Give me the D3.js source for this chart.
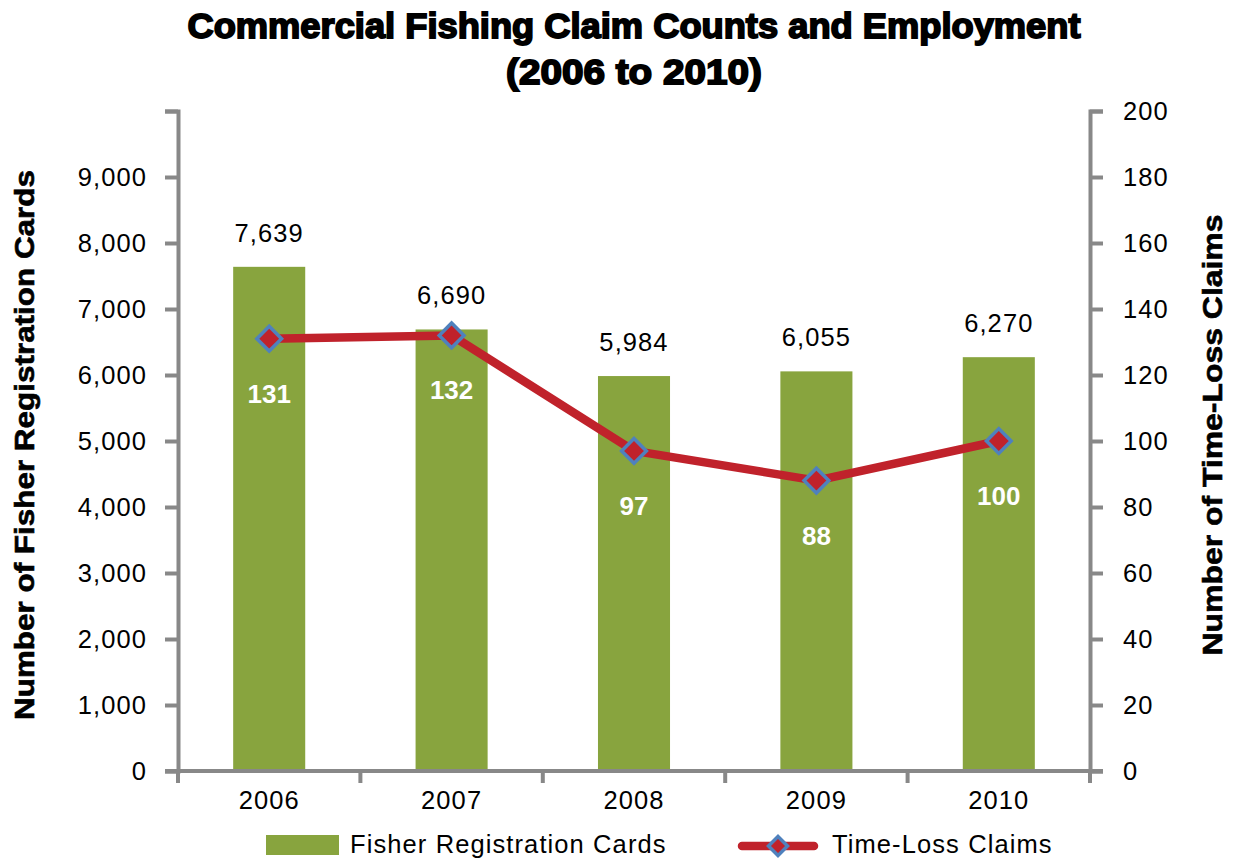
<!DOCTYPE html>
<meta charset="utf-8">
<script src="https://d3js.org/d3.v7.min.js"></script>
<style>
  body { margin: 0; background: #fff; }
  text { font-family: "Liberation Sans", Arial, sans-serif; }
</style>
<div id="chart"></div>
<script>
// data
var years = ["2006", "2007", "2008", "2009", "2010"];
var cards = [7639, 6690, 5984, 6055, 6270];
var claims = [131, 132, 97, 88, 100];
var leftTicks = [0, 1000, 2000, 3000, 4000, 5000, 6000, 7000, 8000, 9000, 10000];
var rightTicks = [0, 20, 40, 60, 80, 100, 120, 140, 160, 180, 200];

var W = 1236, H = 858;
var plot = { left: 178, right: 1090, top: 111, bottom: 771 };
var axisGrey = "#888888", barGreen = "#88A43E", lineRed = "#C0222B", markBlue = "#4F81BD";
var fontSz = 25.5, spacing = 1.1;

var svg = d3.select("#chart").append("svg")
    .attr("width", W).attr("height", H);

var x = d3.scaleBand().domain(years).range([plot.left, plot.right]).padding(0);
var yL = d3.scaleLinear().domain([0, 10000]).range([plot.bottom, plot.top]);
var yR = d3.scaleLinear().domain([0, 200]).range([plot.bottom, plot.top]);
var barW = x.bandwidth() * 0.395;

// title
svg.append("text").attr("x", 634).attr("y", 38).attr("text-anchor", "middle")
    .attr("font-size", 35).attr("font-weight", "bold")
    .attr("stroke", "#000").attr("stroke-width", 1.8)
    .attr("textLength", 893).attr("lengthAdjust", "spacingAndGlyphs")
    .text("Commercial Fishing Claim Counts and Employment");
svg.append("text").attr("x", 634).attr("y", 84).attr("text-anchor", "middle")
    .attr("font-size", 35).attr("font-weight", "bold")
    .attr("stroke", "#000").attr("stroke-width", 1.8)
    .attr("textLength", 256).attr("lengthAdjust", "spacingAndGlyphs")
    .text("(2006 to 2010)");

// bars
svg.selectAll("rect.bar").data(years).enter().append("rect")
    .attr("class", "bar")
    .attr("x", function (d) { return x(d) + x.bandwidth() / 2 - barW / 2; })
    .attr("y", function (d, i) { return yL(cards[i]); })
    .attr("width", barW)
    .attr("height", function (d, i) { return plot.bottom - yL(cards[i]); })
    .attr("fill", barGreen);

// bar value labels
svg.selectAll("text.cardlab").data(years).enter().append("text")
    .attr("class", "cardlab")
    .attr("x", function (d) { return x(d) + x.bandwidth() / 2; })
    .attr("y", function (d, i) { return yL(cards[i]) - 25; })
    .attr("text-anchor", "middle").attr("font-size", fontSz).attr("letter-spacing", spacing)
    .text(function (d, i) { return d3.format(",")(cards[i]); });

// axes
var left = svg.append("g").attr("transform", "translate(" + plot.left + ",0)")
    .call(d3.axisLeft(yL).tickValues(leftTicks).tickSizeOuter(0).tickSize(13).tickPadding(8)
        .tickFormat(function (d) { return d === 10000 ? "" : d3.format(",")(d); }));
var right = svg.append("g").attr("transform", "translate(" + plot.right + ",0)")
    .call(d3.axisRight(yR).tickValues(rightTicks).tickSizeOuter(0).tickSize(13).tickPadding(20));

[left, right].forEach(function (g) {
  g.select(".domain").attr("stroke", axisGrey).attr("stroke-width", 4);
  g.selectAll(".tick line").attr("stroke", axisGrey).attr("stroke-width", 4);
  g.selectAll(".tick text").attr("font-size", fontSz).attr("letter-spacing", spacing)
      .attr("fill", "#000").attr("font-family", "Liberation Sans, Arial, sans-serif");
});
left.selectAll(".tick text").attr("dx", -10);

var bottom = svg.append("g").attr("transform", "translate(0," + plot.bottom + ")")
    .call(d3.axisBottom(x).tickSize(0).tickPadding(20));
bottom.select(".domain").remove();
bottom.selectAll(".tick text").attr("font-size", fontSz).attr("letter-spacing", spacing)
    .attr("fill", "#000").attr("font-family", "Liberation Sans, Arial, sans-serif");
svg.append("line").attr("x1", plot.left - 13).attr("x2", plot.right + 13)
    .attr("y1", plot.bottom).attr("y2", plot.bottom)
    .attr("stroke", axisGrey).attr("stroke-width", 4);
var bounds = years.map(function (d) { return x(d); }).concat([plot.right]);
svg.selectAll("line.xtick").data(bounds).enter().append("line")
    .attr("class", "xtick")
    .attr("x1", function (d) { return d; }).attr("x2", function (d) { return d; })
    .attr("y1", plot.bottom).attr("y2", plot.bottom + 12)
    .attr("stroke", axisGrey).attr("stroke-width", 4);

// axis titles
svg.append("text").attr("transform", "translate(34,445) rotate(-90)")
    .attr("text-anchor", "middle").attr("font-size", 27).attr("font-weight", "bold")
    .attr("stroke", "#000").attr("stroke-width", 0.6)
    .attr("textLength", 550).attr("lengthAdjust", "spacingAndGlyphs")
    .text("Number of Fisher Registration Cards");
svg.append("text").attr("transform", "translate(1222,435) rotate(-90)")
    .attr("text-anchor", "middle").attr("font-size", 27).attr("font-weight", "bold")
    .attr("stroke", "#000").attr("stroke-width", 0.6)
    .attr("textLength", 441).attr("lengthAdjust", "spacingAndGlyphs")
    .text("Number of Time-Loss Claims");

// claims line
var pts = years.map(function (d, i) { return [x(d) + x.bandwidth() / 2, yR(claims[i])]; });
svg.append("path").attr("d", d3.line()(pts))
    .attr("fill", "none").attr("stroke", lineRed).attr("stroke-width", 8.5)
    .attr("stroke-linejoin", "round");

var diamond = d3.symbol().type(d3.symbolDiamond2).size(390);
svg.selectAll("path.mark").data(pts).enter().append("path")
    .attr("class", "mark")
    .attr("transform", function (d) { return "translate(" + d[0] + "," + d[1] + ")"; })
    .attr("d", diamond)
    .attr("fill", lineRed).attr("stroke", markBlue).attr("stroke-width", 3.5);

svg.selectAll("text.claimlab").data(pts).enter().append("text")
    .attr("class", "claimlab")
    .attr("x", function (d) { return d[0]; })
    .attr("y", function (d) { return d[1] + 64; })
    .attr("text-anchor", "middle").attr("font-size", 26).attr("font-weight", "bold")
    .attr("fill", "#fff")
    .text(function (d, i) { return claims[i]; });

// legend
var lg = svg.append("g");
lg.append("rect").attr("x", 266).attr("y", 835).attr("width", 73).attr("height", 20)
    .attr("fill", barGreen);
lg.append("text").attr("x", 350).attr("y", 853).attr("font-size", fontSz).attr("letter-spacing", spacing)
    .text("Fisher Registration Cards");
lg.append("line").attr("x1", 742).attr("x2", 814).attr("y1", 846).attr("y2", 846)
    .attr("stroke", lineRed).attr("stroke-width", 8.5).attr("stroke-linecap", "round");
lg.append("path").attr("transform", "translate(778,846)")
    .attr("d", d3.symbol().type(d3.symbolDiamond2).size(230))
    .attr("fill", lineRed).attr("stroke", markBlue).attr("stroke-width", 3.5);
lg.append("text").attr("x", 832).attr("y", 853).attr("font-size", fontSz).attr("letter-spacing", spacing)
    .text("Time-Loss Claims");
</script>
